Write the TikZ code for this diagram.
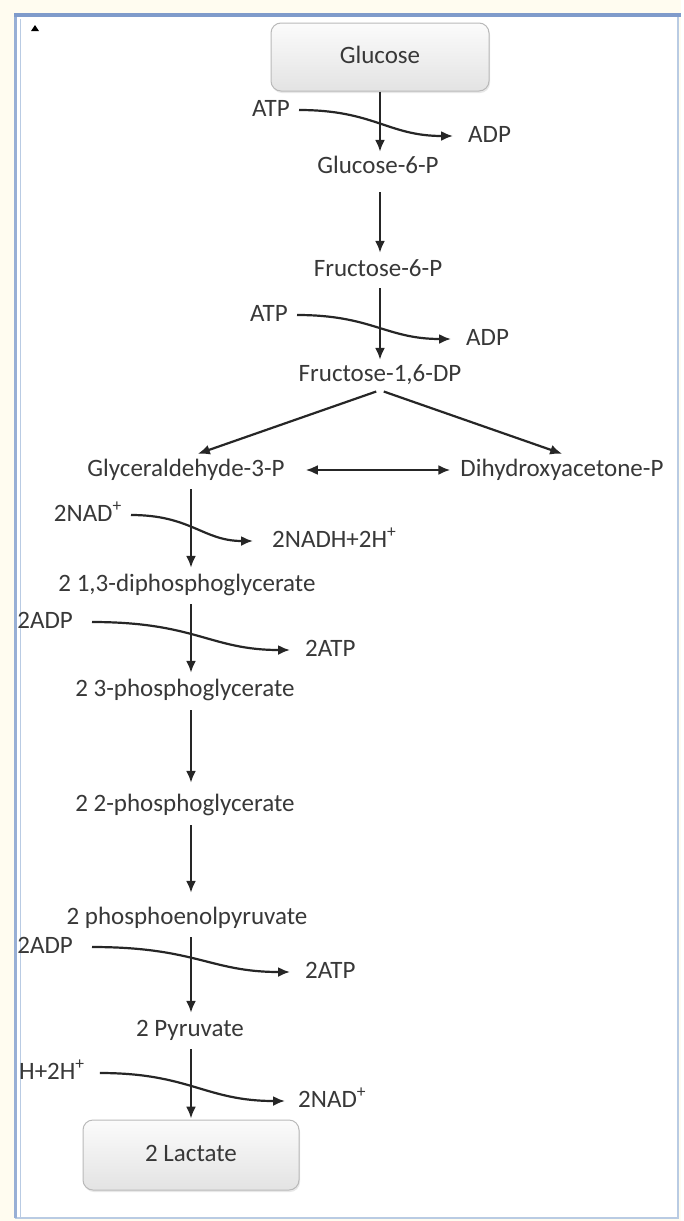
\documentclass[tikz,border=0pt]{standalone}
\usepackage{fontspec}
\setmainfont{Carlito}
\usetikzlibrary{arrows.meta,shadows}
\definecolor{txt}{HTML}{383838}
\definecolor{frameblue}{HTML}{7F9BCB}
\definecolor{framelight}{HTML}{B9CBE3}
\definecolor{cream}{HTML}{FFFCF0}
\tikzset{
  lbl/.style={font=\fontsize{25}{29}\selectfont, text=txt, inner xsep=3pt, inner ysep=4pt, text height=17pt, text depth=5pt},
  boxnode/.style={lbl, draw=gray!55, line width=1pt, rounded corners=10pt, top color=gray!3, bottom color=gray!22, drop shadow={opacity=0.18, shadow xshift=1pt, shadow yshift=-2pt}},
  arr/.style={draw=black!85, line width=2.2pt, -{Latex[length=12pt,width=10pt]}},
  arrs/.style={draw=black!85, line width=2.2pt, {Latex[length=12pt,width=10pt]}-{Latex[length=12pt,width=10pt]}},
}
\begin{document}
\begin{tikzpicture}[x=1pt,y=-1pt]
% page & frame
\fill[cream] (0,0) rectangle (681,1221);
\fill[white] (15,15) rectangle (678,1218);
\draw[framelight, line width=1.5pt] (678,15) -- (678,1218) -- (15,1218);
\draw[frameblue!80, line width=3pt] (15.5,1218) -- (15.5,15);
\draw[framelight, line width=1pt] (20,1218) -- (20,19);
\draw[frameblue, line width=4.5pt] (14,15) -- (681,15);
\fill[black] (31,31) -- (35,25) -- (39,31) -- cycle;

% main chain
\node[boxnode, minimum width=218pt, minimum height=68pt] (glc) at (380,57) {Glucose};
\node[lbl] (g6p) at (378,167) {Glucose-6-P};
\node[lbl] (f6p) at (378,270) {Fructose-6-P};
\node[lbl] (f16) at (380,375) {Fructose-1,6-DP};
\node[lbl] (gap) at (186,470) {Glyceraldehyde-3-P};
\node[lbl] (dhap) at (562,470) {Dihydroxyacetone-P};
\node[lbl] (bpg) at (187,585) {2 1,3-diphosphoglycerate};
\node[lbl] (pg3) at (185,690) {2 3-phosphoglycerate};
\node[lbl] (pg2) at (185,805) {2 2-phosphoglycerate};
\node[lbl] (pep) at (187,918) {2 phosphoenolpyruvate};
\node[lbl] (pyr) at (190,1030) {2 Pyruvate};
\node[boxnode, minimum width=216pt, minimum height=70pt] (lac) at (191,1155) {2 Lactate};

% side labels
\node[lbl, anchor=east] (atp1) at (293,110) {ATP};
\node[lbl, anchor=west] (adp1) at (465,136) {ADP};
\node[lbl, anchor=east] (atp2) at (291,315) {ATP};
\node[lbl, anchor=west] (adp2) at (463,339) {ADP};
\node[lbl, anchor=east] (nad1) at (125,515) {2NAD\textsuperscript{+}};
\node[lbl, anchor=west] (nadh1) at (269,541) {2NADH+2H\textsuperscript{+}};
\node[lbl, anchor=east] (adp3) at (76,622) {2ADP};
\node[lbl, anchor=west] (atp3) at (302,650) {2ATP};
\node[lbl, anchor=east] (adp4) at (76,947) {2ADP};
\node[lbl, anchor=west] (atp4) at (302,972) {2ATP};
\node[lbl, anchor=west] (nadh2) at (16,1073) {H+2H\textsuperscript{+}};
\node[lbl, anchor=west] (nad2) at (295,1101) {2NAD\textsuperscript{+}};

% main arrows
\draw[arr] (glc.south) -- (glc.south |- g6p.north);
\draw[arr, shorten <=10pt, shorten >=2pt] (g6p.south -| glc.south) -- (f6p.north -| glc.south);
\draw[arr, shorten <=3pt] (f6p.south -| glc.south) -- (f16.north -| glc.south);
\draw[arr, shorten <=4pt, shorten >=3pt] (f16.south) -- ([xshift=9pt]gap.north);
\draw[arr, shorten <=4pt, shorten >=3pt] (f16.south) -- ([xshift=3pt]dhap.north);
\draw[arrs, shorten <=18pt, shorten >=7pt] (gap.east) -- (dhap.west);
\draw[arr, shorten <=4pt, shorten >=2pt] (gap.south -| lac.north) -- (bpg.north -| lac.north);
\draw[arr, shorten <=4pt, shorten >=2pt] (bpg.south -| lac.north) -- (pg3.north -| lac.north);
\draw[arr, shorten <=5pt, shorten >=7pt] (pg3.south -| lac.north) -- (pg2.north -| lac.north);
\draw[arr, shorten <=5pt, shorten >=10pt] (pg2.south -| lac.north) -- (pep.north -| lac.north);
\draw[arr, shorten <=4pt, shorten >=2pt] (pep.south -| lac.north) -- (pyr.north -| lac.north);
\draw[arr, shorten <=4pt, shorten >=1pt] (pyr.south -| lac.north) -- (lac.north);

% side reactions
\draw[arr] ([xshift=6pt]atp1.east) .. controls +(75,0) and +(-65,0) .. ([xshift=-12pt]adp1.west);
\draw[arr] ([xshift=6pt]atp2.east) .. controls +(75,0) and +(-65,0) .. ([xshift=-12pt]adp2.west);
\draw[arr] ([xshift=6pt]nad1.east) .. controls +(60,0) and +(-50,0) .. ([xshift=-16pt]nadh1.west);
\draw[arr] ([xshift=16pt]adp3.east) .. controls +(104,0) and +(-80,0) .. ([xshift=-12pt]atp3.west);
\draw[arr] ([xshift=16pt]adp4.east) .. controls +(104,0) and +(-80,0) .. ([xshift=-12pt]atp4.west);
\draw[arr] ([xshift=12pt]nadh2.east) .. controls +(90,0) and +(-80,0) .. ([xshift=-10pt]nad2.west);
\end{tikzpicture}
\end{document}
